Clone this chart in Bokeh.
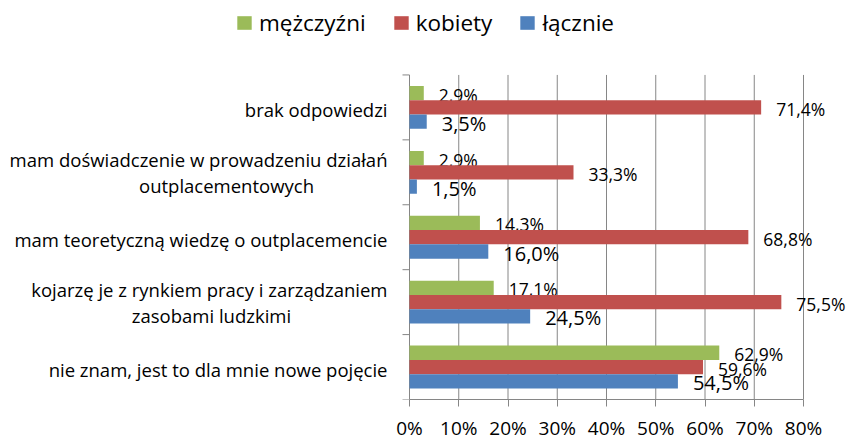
import math
from bokeh.plotting import figure
from bokeh.models import (Range1d, LinearAxis, FixedTicker, ColumnDataSource,
                          Legend, LegendItem)
from bokeh.transform import dodge
from bokeh.core.properties import value
from bokeh.embed import file_html
from bokeh.resources import INLINE

# ---- data (top to bottom as in the chart) ----
categories = [
    "brak odpowiedzi",
    "mam doświadczenie w prowadzeniu działań\noutplacementowych",
    "mam teoretyczną wiedzę o outplacemencie",
    "kojarzę je z rynkiem pracy i zarządzaniem\nzasobami ludzkimi",
    "nie znam, jest to dla mnie nowe pojęcie",
]
series_names = ["mężczyźni", "kobiety", "łącznie"]
mezczyzni = [2.9, 2.9, 14.3, 17.1, 62.9]
kobiety = [71.4, 33.3, 68.8, 75.5, 59.6]
lacznie = [3.5, 1.5, 16.0, 24.5, 54.5]
tick_values = [0, 10, 20, 30, 40, 50, 60, 70, 80]
tick_labels = ["0%", "10%", "20%", "30%", "40%", "50%", "60%", "70%", "80%"]

# ---- layout / style ----
W, H = 847, 443
AX_LEFT, AX_RIGHT = 409, 803      # pixel position of 0% and 80%
PLOT_TOP, PLOT_BOTTOM = 75, 402   # pixel top / bottom of category area
colors = ["#9BBB59", "#C0504D", "#4F81BD"]
GRAY = "#868686"
FONT = "Open Sans"
# centre (px) of the second line of wrapped category labels
second_line_centre = [226, 211]

n = len(categories)
cat_pos = [n - 0.5 - i for i in range(n)]  # category centres, top to bottom
x_max = tick_values[-1]
ppu_x = (AX_RIGHT - AX_LEFT) / x_max
ppu_y = (PLOT_BOTTOM - PLOT_TOP) / n


def fmt(v):
    return f"{v:.1f}%".replace(".", ",")


src = ColumnDataSource(dict(
    pos=cat_pos,
    m=mezczyzni, k=kobiety, l=lacznie,
    m_txt=[fmt(v) for v in mezczyzni],
    k_txt=[fmt(v) for v in kobiety],
    l_txt=[fmt(v) for v in lacznie],
))

p = figure(width=W, height=H,
           x_range=Range1d(-AX_LEFT / ppu_x, (W - AX_LEFT) / ppu_x),
           y_range=Range1d(0, n + PLOT_TOP / ppu_y),
           output_backend="svg", toolbar_location=None,
           x_axis_location=None, y_axis_location=None,
           min_border_left=0, min_border_right=0,
           min_border_top=0, min_border_bottom=H - PLOT_BOTTOM)
p.outline_line_color = None
p.grid.visible = False
p.background_fill_color = "white"
p.border_fill_color = "white"

# vertical gridlines (the one at 0% doubles as the category axis line)
p.segment(x0=tick_values, x1=tick_values, y0=0, y1=n, line_color=GRAY, line_width=1)
# category boundary tick marks on the left of the axis
p.ray(x=0, y=list(range(n + 1)), length=7, length_units="screen", angle=math.pi,
      line_color=GRAY, line_width=1)

# bottom value axis
xaxis = LinearAxis(ticker=FixedTicker(ticks=tick_values), bounds=(0, x_max),
                   major_label_overrides={v: l for v, l in zip(tick_values, tick_labels)},
                   major_tick_out=7, major_tick_in=0, minor_tick_line_color=None,
                   axis_line_color=GRAY, major_tick_line_color=GRAY,
                   major_label_standoff=8,
                   major_label_text_font=FONT, major_label_text_font_size="19px",
                   major_label_text_color="black")
p.add_layout(xaxis, "below")

# category labels
first_lines = [c.split("\n")[0] for c in categories]
wrapped = [(pos, c.split("\n")[1]) for pos, c in zip(cat_pos, categories) if "\n" in c]
first_off = [-13 if "\n" in c else 2 for c in categories]
p.text(x=[0] * n, y=cat_pos, text=first_lines, x_offset=-22, y_offset=first_off,
       text_align="right", text_baseline="middle", text_color="black",
       text_font=value(FONT), text_font_size="18.5px")
p.text(x=[0] * len(wrapped), y=[w[0] for w in wrapped], text=[w[1] for w in wrapped],
       x_offset=[c - AX_LEFT for c in second_line_centre], y_offset=13,
       text_align="center", text_baseline="middle", text_color="black",
       text_font=value(FONT), text_font_size="18.5px")

offsets = [0.22, 0.0, -0.22]
keys = ["m", "k", "l"]
label_sizes = ["17.5px", "17.5px", "20px"]
items = []
for key, name, color, off, lsz in zip(keys, series_names, colors, offsets, label_sizes):
    r = p.hbar(y=dodge("pos", off), left=0, right=key, height=0.22,
               fill_color=color, line_color=None, source=src)
    items.append(LegendItem(label=value(name), renderers=[r]))
    p.text(x=key, y=dodge("pos", off), text=key + "_txt", source=src,
           x_offset=15, y_offset=1.5, text_align="left", text_baseline="middle",
           text_font=value(FONT), text_font_size=lsz, text_color="black")

legend = Legend(items=items, orientation="horizontal",
                location=(235, PLOT_BOTTOM - 41),
                glyph_width=18, glyph_height=17, label_standoff=6, spacing=26,
                padding=0, margin=0, border_line_color=None, background_fill_alpha=0,
                label_text_font=FONT, label_text_font_size="22.5px",
                label_text_color="black")
p.add_layout(legend, "center")

open("out.html", "w").write(file_html(p, INLINE))
